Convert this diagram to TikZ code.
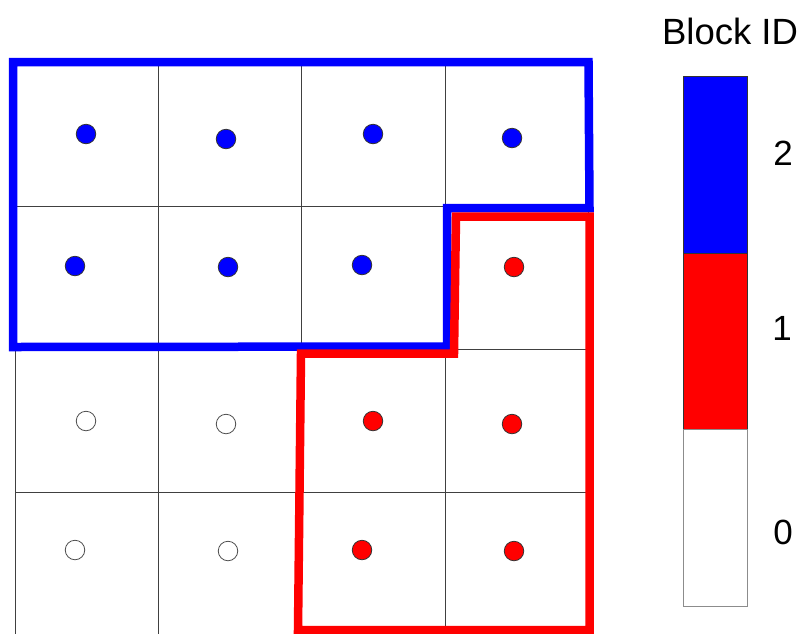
\documentclass[tikz,border=0pt]{standalone}
\usepackage{fontspec}
\setmainfont{Liberation Sans}
\definecolor{pblue}{RGB}{0,0,255}
\definecolor{pred}{RGB}{255,0,0}
\begin{document}
\begin{tikzpicture}[x=1pt,y=-1pt,
  gridline/.style={draw=black!75,line width=1pt},
  dotbase/.style={circle,inner sep=0pt,minimum size=19.5pt,draw=black!80,line width=0.8pt},
  bdot/.style={dotbase,fill=pblue},
  rdot/.style={dotbase,fill=pred},
  wdot/.style={dotbase,fill=white,draw=black!70},
  blockline/.style={line width=8.5pt,line join=miter},
  barseg/.style={draw=black!80,line width=0.8pt,minimum width=64pt,inner sep=0pt,anchor=north west},
  lbl/.style={font=\fontsize{35}{40}\selectfont,inner sep=0pt},
  titlelbl/.style={font=\fontsize{36.5}{40}\selectfont,inner sep=0pt}]
\useasboundingbox (0,0) rectangle (803,633);
\fill[white] (0,0) rectangle (803,633);
% grid
\foreach \x in {15,158,301.5,445,588} \draw[gridline] (\x,63) -- (\x,640);
\foreach \y in {63,206.5,349.5,492.5} \draw[gridline] (15,\y) -- (588,\y);
% block outlines
\draw[blockline,draw=pblue] (13,62) -- (588.5,62) -- (589.5,208) -- (447,208) -- (447,346.5) -- (13,347) -- cycle;
\draw[blockline,draw=pred] (456,216.5) -- (589.5,216.5) -- (589.5,630) -- (298,630) -- (301,353.5) -- (454,353.5) -- cycle;
% dots
\node[bdot] (d11) at (86,134) {};
\node[bdot] (d12) at (226,139) {};
\node[bdot] (d13) at (373,134) {};
\node[bdot] (d14) at (512,138) {};
\node[bdot] (d21) at (75,266) {};
\node[bdot] (d22) at (228,267) {};
\node[bdot] (d23) at (362,265) {};
\node[rdot] (d24) at (514,267) {};
\node[wdot] (d31) at (86,421) {};
\node[wdot] (d32) at (226,424) {};
\node[rdot] (d33) at (373,421) {};
\node[rdot] (d34) at (512,424) {};
\node[wdot] (d41) at (75,550) {};
\node[wdot] (d42) at (228,551) {};
\node[rdot] (d43) at (362,550) {};
\node[rdot] (d44) at (514,551) {};
% colour bar
\node[barseg,fill=pblue,minimum height=177pt] (cb2) at (683,76) {};
\node[barseg,fill=pred,minimum height=176pt] (cb1) at (683,253) {};
\node[barseg,fill=white,draw=black!45,minimum height=177pt] (cb0) at (683,429) {};
\node[titlelbl] (title) at (730,31) {Block ID};
\node[lbl] (l2) at (783,153) {2};
\node[lbl] (l1) at (782,328) {1};
\node[lbl] (l0) at (783,532) {0};
\end{tikzpicture}
\end{document}
